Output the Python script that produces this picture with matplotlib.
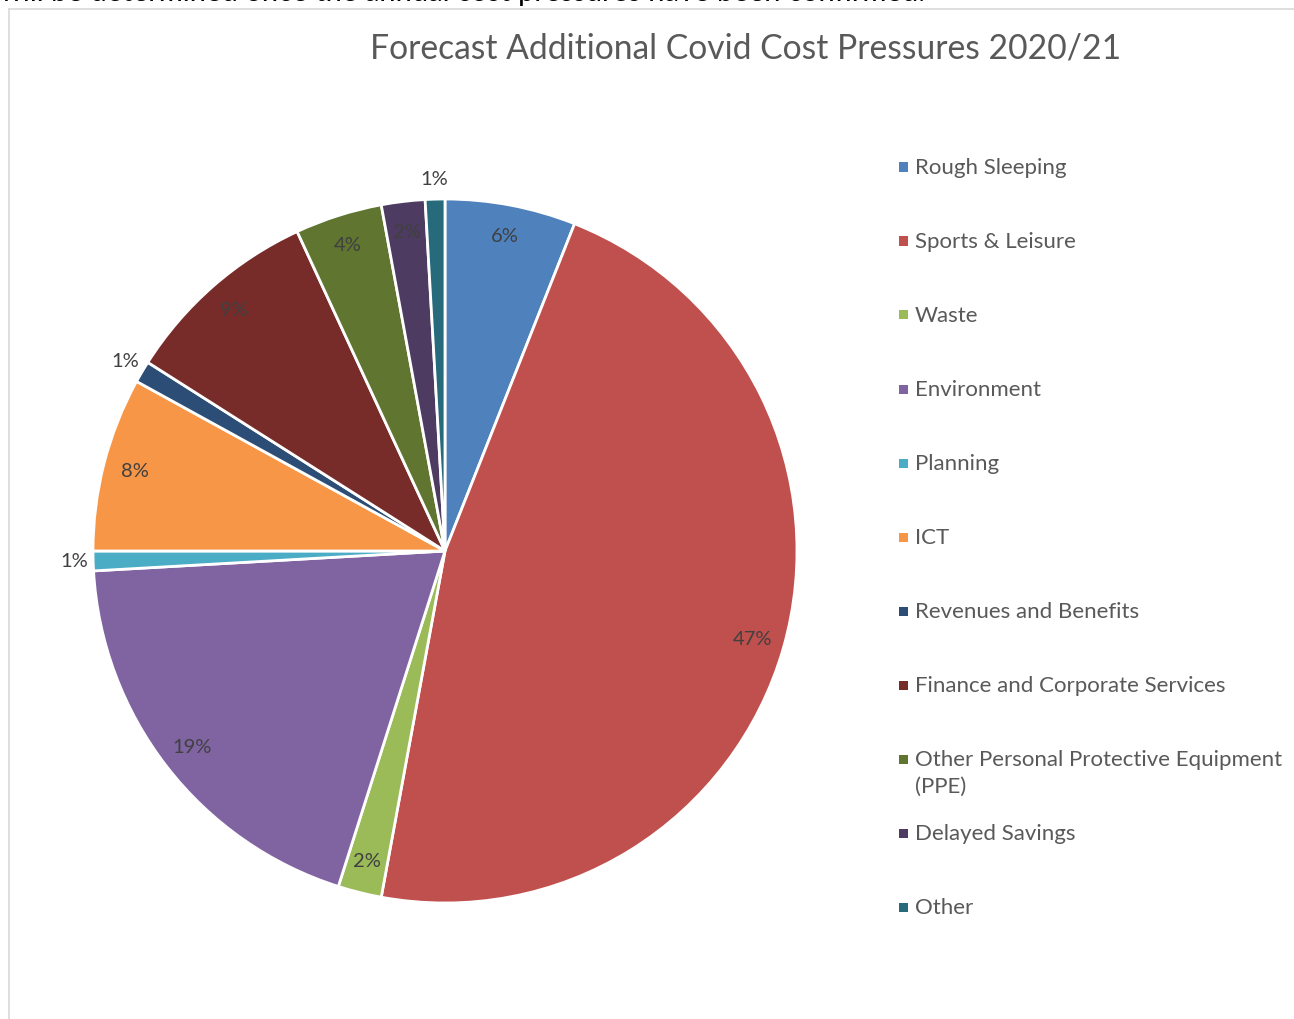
import numpy as np
import matplotlib.pyplot as plt
from matplotlib.patches import Rectangle
from matplotlib.lines import Line2D

plt.rcParams['font.family'] = ['Lato', 'DejaVu Sans']

# Data (share of total, %)
categories = ['Rough Sleeping', 'Sports & Leisure', 'Waste', 'Environment', 'Planning',
              'ICT', 'Revenues and Benefits', 'Finance and Corporate Services',
              'Other Personal Protective Equipment\n(PPE)', 'Delayed Savings', 'Other']
values = [6.0, 46.9, 2.0, 19.2, 0.9, 8.0, 1.0, 9.1, 4.0, 2.0, 0.9]
pct_labels = ['6%', '47%', '2%', '19%', '1%', '8%', '1%', '9%', '4%', '2%', '1%']
outside = [False, False, False, False, True, False, True, False, False, False, True]
colors = ['#4F81BD', '#C0504D', '#9BBB59', '#8064A2', '#4BACC6', '#F79646',
          '#2C4D75', '#772C2A', '#5F7530', '#4D3B62', '#276A7C']

W, H = 1294, 1019
fig = plt.figure(figsize=(W / 100, H / 100), dpi=100)

# pie axes: centre (445, 551) px, radius 352 px
cx, cy, r = 445, 551, 352
ax = fig.add_axes([(cx - r) / W, (H - cy - r) / H, 2 * r / W, 2 * r / H])
wedges, _ = ax.pie(values, colors=colors, startangle=90, counterclock=False,
                   wedgeprops=dict(edgecolor='white', linewidth=2))
ax.set_xlim(-1, 1)
ax.set_ylim(-1, 1)
ax.set_aspect('equal')
ax.axis('off')

# data labels
for w, lab, out in zip(wedges, pct_labels, outside):
    mid = np.deg2rad((w.theta1 + w.theta2) / 2)
    rad = 1.055 if out else 0.91
    ax.text(rad * np.cos(mid), rad * np.sin(mid), lab, ha='center', va='center',
            fontsize=14.5, color='#404040', clip_on=False)

# title
fig.text(746 / W, 1 - 49 / H, 'Forecast Additional Covid Cost Pressures 2020/21',
         ha='center', va='center', fontsize=24.2, color='#595959')

# legend, drawn by hand so the wrapped entry keeps the row pitch
for i, (name, col) in enumerate(zip(categories, colors)):
    y = 167 + 74 * i
    fig.patches.append(Rectangle((899 / W, 1 - (y + 4.5) / H), 9 / W, 9 / H,
                                 transform=fig.transFigure, facecolor=col, edgecolor='none'))
    fig.text(915 / W, 1 - (y - 9) / H, name, ha='left', va='top',
             fontsize=16, color='#595959', linespacing=1.45)

# chart frame and clipped text from the page above
fig.add_artist(Line2D([9 / W, 9 / W], [0, 1 - 9 / H], color='#D9D9D9', lw=1.2))
fig.add_artist(Line2D([9 / W, 1], [1 - 9 / H, 1 - 9 / H], color='#D9D9D9', lw=1.2))
fig.text(0.0, 1 - 1 / H, 'will be determined once the annual cost pressures have been confirmed.',
         ha='left', va='baseline', fontsize=21, color='black')

fig.savefig('out.png', dpi=100, facecolor='white')
